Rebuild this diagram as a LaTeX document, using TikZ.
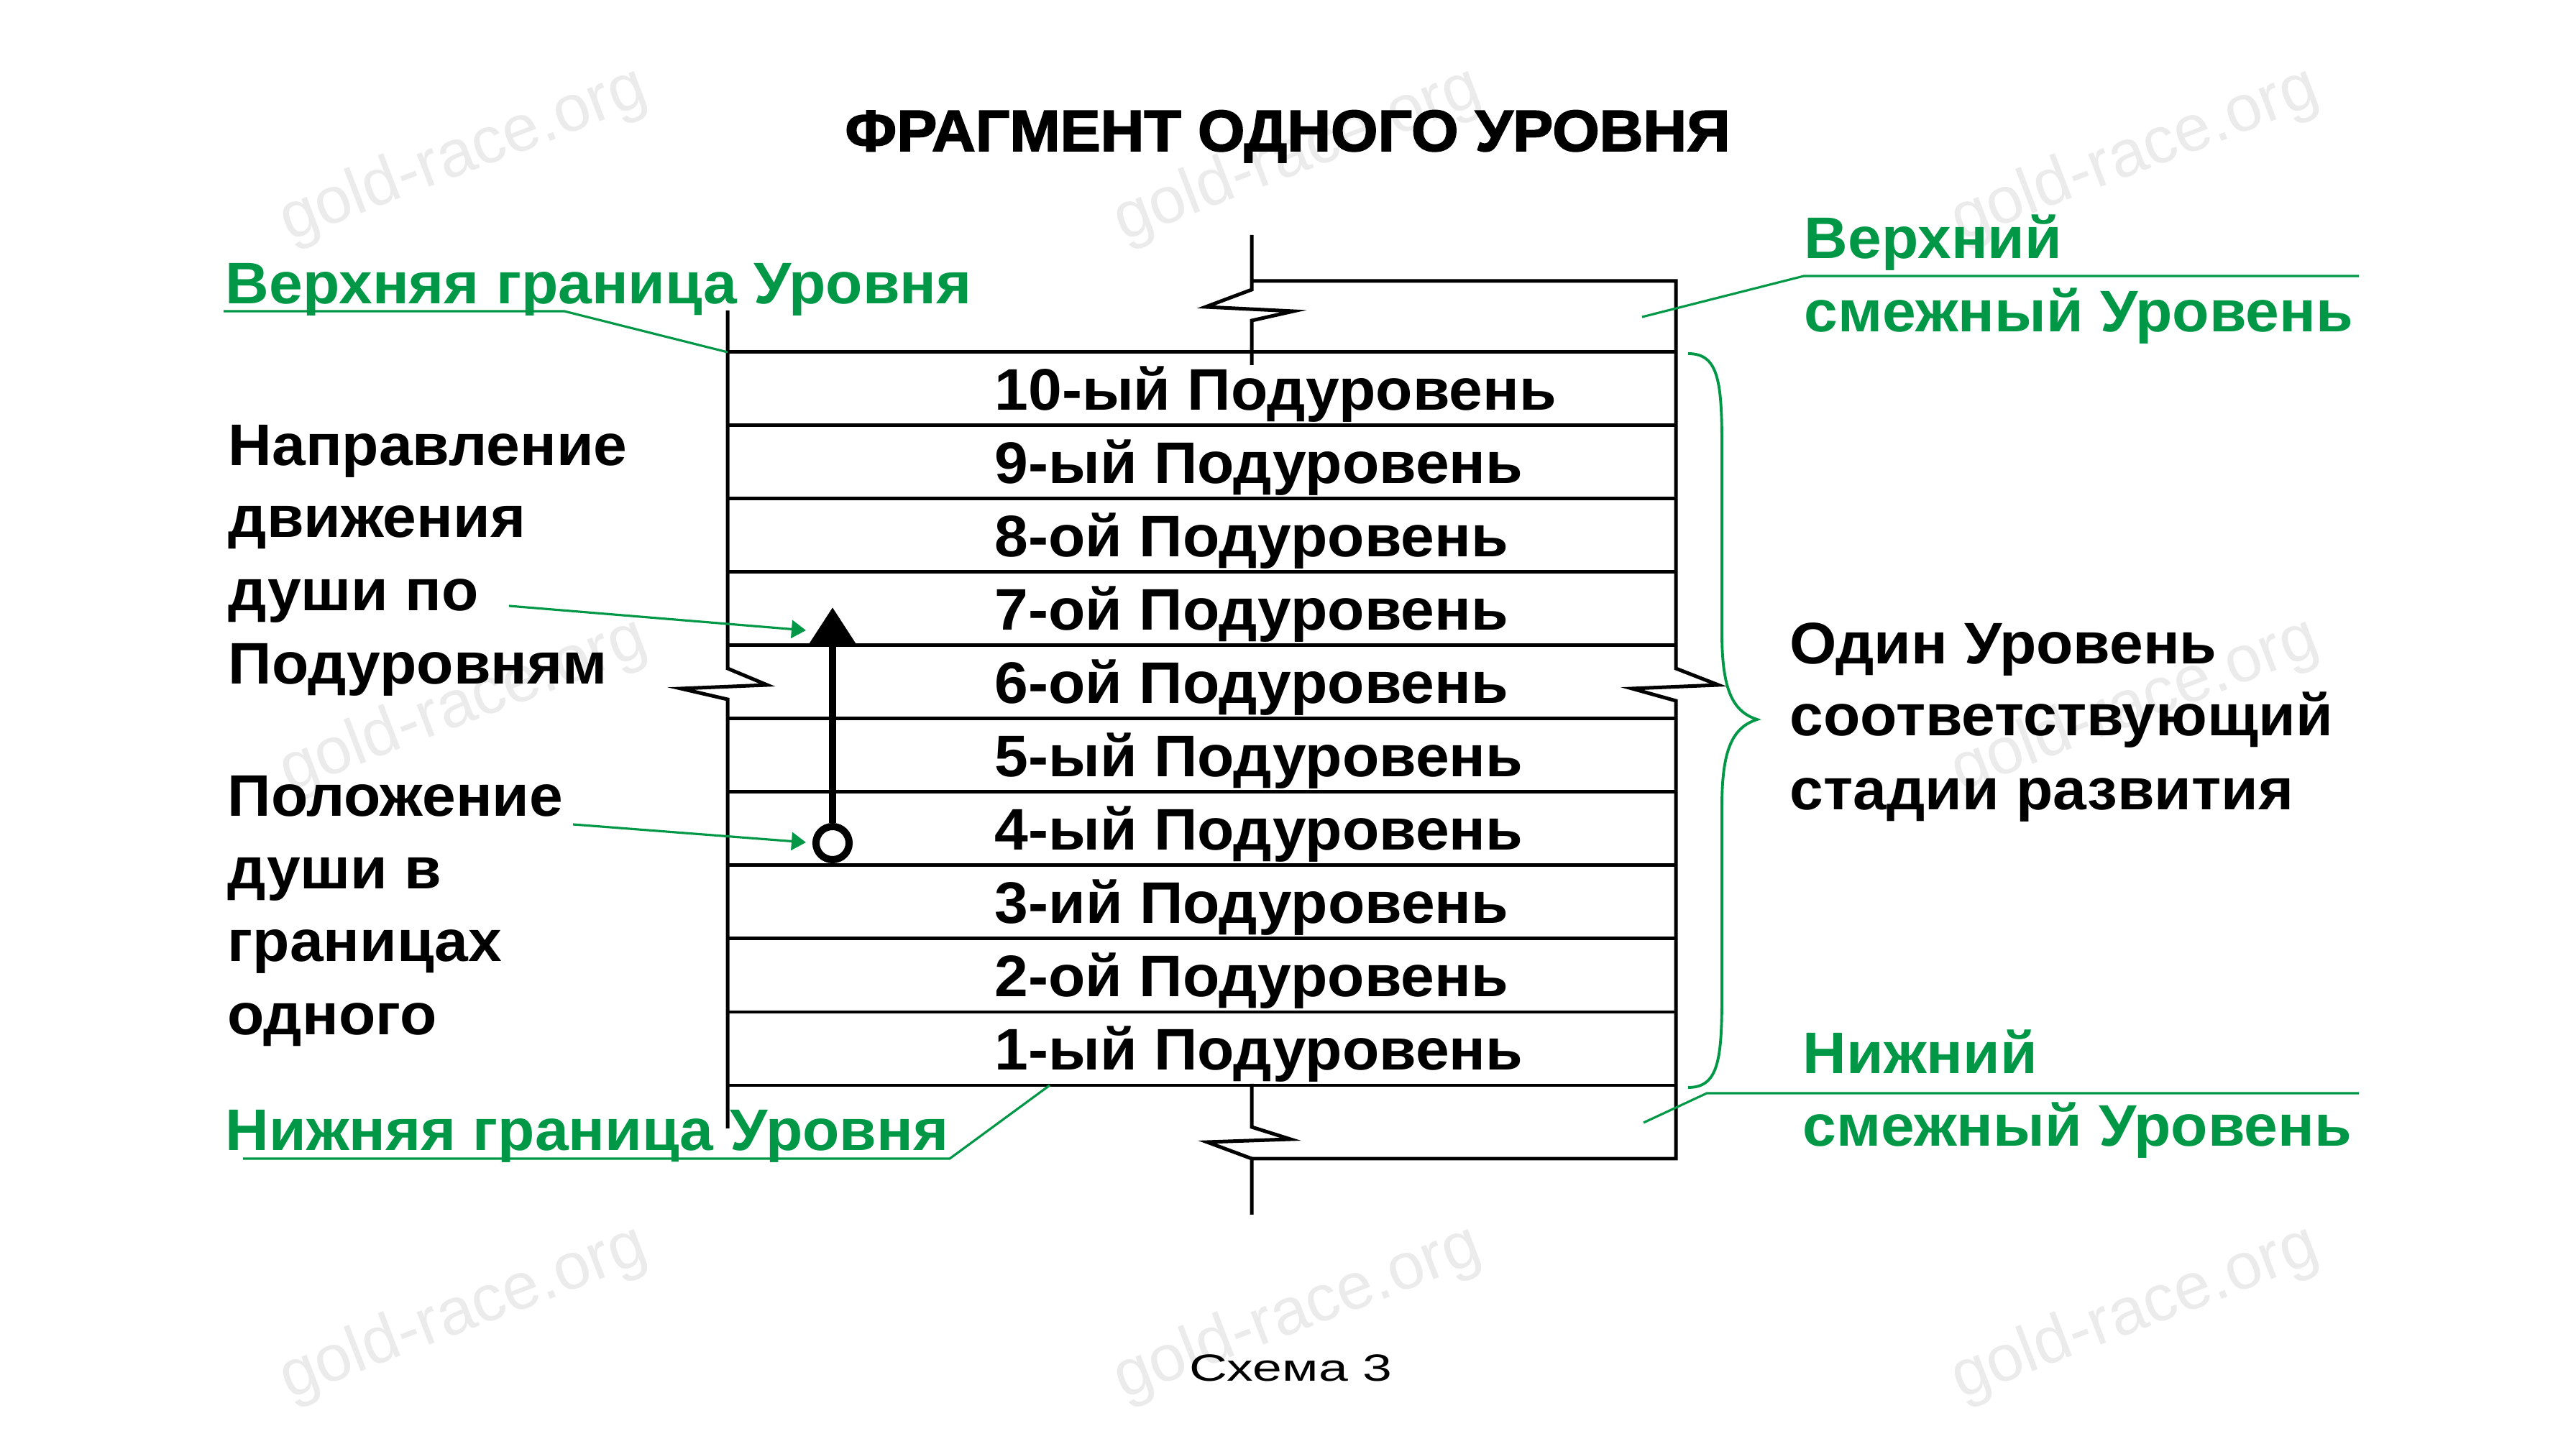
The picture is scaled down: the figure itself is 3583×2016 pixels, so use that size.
\documentclass[tikz,border=0pt]{standalone}
\usepackage{fontspec}
\usepackage{graphicx}
\setmainfont{Liberation Sans}[FakeStretch=1.03]
\newfontfamily\ttlfam{Liberation Sans Bold}[FakeBold=2.2,FakeStretch=1.04]
\newfontfamily\wmfam{Liberation Sans}
\usetikzlibrary{arrows.meta}
\definecolor{gcol}{RGB}{0,152,70}
\newcommand\labfont{\fontsize{23.2pt}{28pt}\selectfont\bfseries}
\newcommand\ttlfont{\fontsize{23pt}{28pt}\selectfont\ttlfam}
\newcommand\capfont{\fontsize{15pt}{18pt}\selectfont}
\newcommand\wmfont{\fontsize{26pt}{30pt}\selectfont\wmfam}
\begin{document}
\begin{tikzpicture}[x=0.01cm,y=-0.01cm,
  gridline/.style={line width=1.42pt},
  leader/.style={line width=0.9pt,draw=gcol},
  leadarrow/.style={leader,-{Triangle[length=5.7pt,width=7.1pt]}},
  bracepath/.style={line width=1.1pt,draw=gcol},
  lbl/.style={anchor=base west,inner sep=0pt,font=\labfont},
  glbl/.style={lbl,text=gcol},
  wm/.style={font=\wmfont,text=black!8,rotate=21,inner sep=0pt}
]
\useasboundingbox[fill=white] (0,0) rectangle (3583,2016);

% watermarks
\node[wm] (w1) at (645,217) {gold-race.org};
\node[wm] (w2) at (1805,217) {gold-race.org};
\node[wm] (w3) at (2970,217) {gold-race.org};
\node[wm] (w4) at (645,983) {gold-race.org};
\node[wm] (w6) at (2970,983) {gold-race.org};
\node[wm] (w7) at (645,1828) {gold-race.org};
\node[wm] (w8) at (1805,1828) {gold-race.org};
\node[wm] (w9) at (2970,1828) {gold-race.org};

% title
\node[anchor=base,inner sep=0pt,font=\ttlfont] (title) at (1791,210) {ФРАГМЕНТ ОДНОГО УРОВНЯ};

% horizontal sublevel lines
\foreach \k in {0,...,10}
  \draw[gridline] (1012,{490+\k*102}) -- (2331,{490+\k*102});

% left border with break
\draw[gridline] (1012,432) -- (1012,930) -- (1067,953) -- (947,958) -- (1012,973) -- (1012,1570);
% right border with break, adjacent levels
\draw[gridline] (1741,391) -- (2331,391) -- (2331,930) -- (2390,953) -- (2270,958) -- (2331,975) -- (2331,1612) -- (1741,1612);
% upper adjacent break
\draw[gridline] (1741,327) -- (1741,403) -- (1677,427) -- (1799,433) -- (1741,446) -- (1741,508);
% lower adjacent break
\draw[gridline] (1741,1508) -- (1741,1568) -- (1795,1585) -- (1679,1589) -- (1741,1612) -- (1741,1690);

% sublevel texts
\foreach \t [count=\k from 0] in {10-ый,9-ый,8-ой,7-ой,6-ой,5-ый,4-ый,3-ий,2-ой,1-ый}
  \node[lbl] (row\k) at (1383,{571+\k*102}) {\t{} Подуровень};

% soul arrow and position
\coordinate (sTip) at (1158,845);
\node[circle,draw,line width=2.85pt,fill=white,minimum size=13.1pt,inner sep=0pt] (soul) at (1158,1173) {};
\draw[line width=3.1pt,-{Triangle[length=14.2pt,width=17.4pt]}] (soul.north) -- (sTip);

% left labels
\node[glbl] (ub) at (313,423) {Верхняя граница Уровня};
\coordinate (ubA) at (311,433);
\coordinate (ubB) at (785,433);
\coordinate (ubC) at (1012,490);
\draw[leader] (ubA) -- (ubB) -- (ubC);

\node[lbl] (d1) at (317,648) {Направление};
\node[lbl] (d2) at (317,748) {движения};
\node[lbl] (d3) at (317,850) {души по};
\node[lbl] (d4) at (317,952) {Подуровням};
\coordinate (dA) at (708,843);
\coordinate (dT) at (1121,877);
\draw[leadarrow] (dA) -- (dT);

\node[lbl] (p1) at (316,1136) {Положение};
\node[lbl] (p2) at (316,1237) {души в};
\node[lbl] (p3) at (316,1338) {границах};
\node[lbl] (p4) at (316,1440) {одного};
\coordinate (pA) at (797,1147);
\coordinate (pT) at (1121,1172);
\draw[leadarrow] (pA) -- (pT);

\node[glbl] (lb) at (313,1601) {Нижняя граница Уровня};
\coordinate (lbA) at (338,1612);
\coordinate (lbB) at (1321,1612);
\coordinate (lbC) at (1460,1510);
\draw[leader] (lbA) -- (lbB) -- (lbC);

% right labels
\node[glbl] (vh) at (2509,360) {Верхний};
\node[glbl] (vs) at (2509,462) {смежный Уровень};
\coordinate (vA) at (3281,384);
\coordinate (vB) at (2509,384);
\coordinate (vC) at (2284,441);
\draw[leader] (vA) -- (vB) -- (vC);

\node[glbl] (nh) at (2507,1494) {Нижний};
\node[glbl] (ns) at (2507,1594) {смежный Уровень};
\coordinate (nA) at (3281,1521);
\coordinate (nB) at (2374,1521);
\coordinate (nC) at (2286,1562);
\draw[leader] (nA) -- (nB) -- (nC);

\draw[bracepath] (2348,492) .. controls (2390,492) and (2395,530) .. (2395,620) -- (2395,880) .. controls (2395,960) and (2410,990) .. (2444,1001) .. controls (2410,1012) and (2395,1042) .. (2395,1122) -- (2395,1385) .. controls (2395,1475) and (2390,1513) .. (2348,1513);

\node[lbl] (o1) at (2489,924) {Один Уровень};
\node[lbl] (o2) at (2489,1024) {соответствующий};
\node[lbl] (o3) at (2489,1127) {стадии развития};

% caption
\node[anchor=base,inner sep=0pt,font=\capfont] (schema) at (1795,1921) {\scalebox{1.35}[1]{Схема 3}};
\end{tikzpicture}
\end{document}
